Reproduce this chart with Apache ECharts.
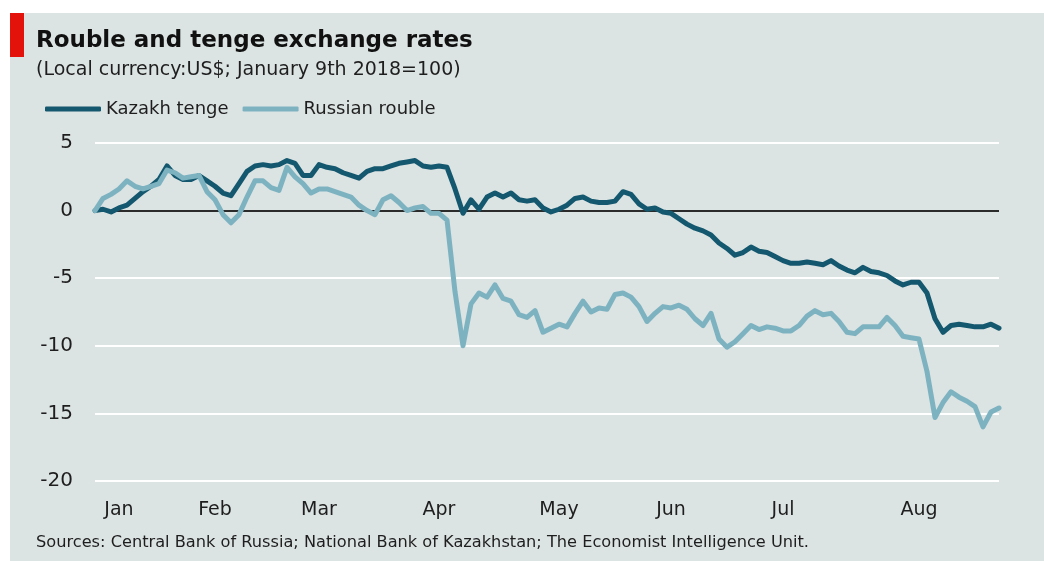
<!DOCTYPE html>
<html>
<head>
<meta charset="utf-8">
<title>Rouble and tenge exchange rates</title>
<script src="https://cdn.jsdelivr.net/npm/echarts@6/dist/echarts.min.js"></script>
<style>
  html, body { margin: 0; padding: 0; background: #ffffff; }
  #chart { width: 1044px; height: 561px; }
</style>
</head>
<body>
<div id="chart"></div>
<script>
// Observation grid: one reading every second day, from the base date onward
const startDate = '2018-01-09';
const stepDays = 2;
const pointCount = 114;

// Index values, % change against US$ (January 9th 2018 = 100)
const kazakhTenge = [
  0.0, 0.1, -0.1, 0.2, 0.4, 0.9, 1.4, 1.8, 2.3, 3.3,
  2.6, 2.3, 2.3, 2.6, 2.2, 1.8, 1.3, 1.1, 2.0, 2.9,
  3.3, 3.4, 3.3, 3.4, 3.7, 3.5, 2.6, 2.6, 3.4, 3.2,
  3.1, 2.8, 2.6, 2.4, 2.9, 3.1, 3.1, 3.3, 3.5, 3.6,
  3.7, 3.3, 3.2, 3.3, 3.2, 1.6, -0.2, 0.8, 0.1, 1.0,
  1.3, 1.0, 1.3, 0.8, 0.7, 0.8, 0.2, -0.1, 0.1, 0.4,
  0.9, 1.0, 0.7, 0.6, 0.6, 0.7, 1.4, 1.2, 0.5, 0.1,
  0.2, -0.1, -0.2, -0.6, -1.0, -1.3, -1.5, -1.8, -2.4, -2.8,
  -3.3, -3.1, -2.7, -3.0, -3.1, -3.4, -3.7, -3.9, -3.9, -3.8,
  -3.9, -4.0, -3.7, -4.1, -4.4, -4.6, -4.2, -4.5, -4.6, -4.8,
  -5.2, -5.5, -5.3, -5.3, -6.1, -8.0, -9.0, -8.5, -8.4, -8.5,
  -8.6, -8.6, -8.4, -8.7
];
const russianRouble = [
  0.0, 0.9, 1.2, 1.6, 2.2, 1.8, 1.6, 1.8, 2.0, 3.0,
  2.8, 2.4, 2.5, 2.6, 1.4, 0.8, -0.3, -0.9, -0.3, 1.0,
  2.2, 2.2, 1.7, 1.5, 3.2, 2.5, 2.0, 1.3, 1.6, 1.6,
  1.4, 1.2, 1.0, 0.4, 0.0, -0.3, 0.8, 1.1, 0.6, 0.0,
  0.2, 0.3, -0.2, -0.2, -0.7, -6.0, -10.0, -6.9, -6.1, -6.4,
  -5.5, -6.5, -6.7, -7.7, -7.9, -7.4, -9.0, -8.7, -8.4, -8.6,
  -7.6, -6.7, -7.5, -7.2, -7.3, -6.2, -6.1, -6.4, -7.1, -8.2,
  -7.6, -7.1, -7.2, -7.0, -7.3, -8.0, -8.5, -7.6, -9.5, -10.1,
  -9.7, -9.1, -8.5, -8.8, -8.6, -8.7, -8.9, -8.9, -8.5, -7.8,
  -7.4, -7.7, -7.6, -8.2, -9.0, -9.1, -8.6, -8.6, -8.6, -7.9,
  -8.5, -9.3, -9.4, -9.5, -11.9, -15.3, -14.2, -13.4, -13.8, -14.1,
  -14.5, -16.0, -14.9, -14.6
];

// Month names and the reading each one sits under
const monthTicks = [
  ['2018-01-15', 'Jan'],
  ['2018-02-08', 'Feb'],
  ['2018-03-06', 'Mar'],
  ['2018-04-05', 'Apr'],
  ['2018-05-05', 'May'],
  ['2018-06-02', 'Jun'],
  ['2018-06-30', 'Jul'],
  ['2018-08-03', 'Aug']
];
const yTicks = { min: -20, max: 5, step: 5 };

const seriesNames = ['Kazakh tenge', 'Russian rouble'];
const titleText = 'Rouble and tenge exchange rates';
const subtitleText = '(Local currency:US$; January 9th 2018=100)';
const sourceText = 'Sources: Central Bank of Russia; National Bank of Kazakhstan; The Economist Intelligence Unit.';

// Build the category list of dates
const dates = [];
{
  const t0 = Date.parse(startDate + 'T00:00:00Z');
  for (let i = 0; i < pointCount; i++) {
    dates.push(new Date(t0 + i * stepDays * 86400000).toISOString().slice(0, 10));
  }
}
const tickMap = new Map(monthTicks);

const FONT = 'DejaVu Sans';
const TEXT = '#1e1e1e';
const PANEL = '#dce3e3';
const TENGE = '#14586f';
const ROUBLE = '#7db3c1';

// Split line colours run from the bottom tick upward; the zero line is dark
const splitColors = [];
for (let v = yTicks.min; v <= yTicks.max; v += yTicks.step) {
  splitColors.push(v === 0 ? '#2b2b2b' : '#ffffff');
}

const chart = echarts.init(document.getElementById('chart'), null, { renderer: 'canvas' });

chart.setOption({
  backgroundColor: '#ffffff',
  animation: false,
  textStyle: { fontFamily: FONT },
  graphic: [
    { type: 'rect', z: -10, shape: { x: 10, y: 13, width: 1034, height: 548 }, style: { fill: PANEL } },
    { type: 'rect', z: -9, shape: { x: 10, y: 13, width: 14, height: 44 }, style: { fill: '#e3120b' } }
  ],
  title: [
    {
      text: titleText, left: 36, top: 30, padding: 0,
      textStyle: { fontFamily: FONT, fontSize: 23, fontWeight: 'bold', color: '#111111' }
    },
    {
      text: subtitleText, left: 36, top: 61, padding: 0,
      textStyle: { fontFamily: FONT, fontSize: 19, fontWeight: 'normal', color: TEXT }
    },
    {
      text: sourceText, left: 36, top: 535, padding: 0,
      textStyle: { fontFamily: FONT, fontSize: 16.2, fontWeight: 'normal', color: TEXT }
    }
  ],
  legend: {
    data: seriesNames,
    left: 45, top: 100, padding: 0,
    icon: 'roundRect',
    itemWidth: 56, itemHeight: 5, itemGap: 14,
    textStyle: { fontFamily: FONT, fontSize: 18, color: TEXT }
  },
  grid: { left: 95, right: 45, top: 143, bottom: 80, containLabel: false },
  xAxis: {
    type: 'category',
    data: dates,
    boundaryGap: false,
    axisLine: { show: false },
    axisTick: { show: false },
    splitLine: { show: false },
    axisLabel: {
      interval: (idx, val) => tickMap.has(val),
      formatter: (val) => tickMap.get(val) || '',
      margin: 20,
      fontFamily: FONT, fontSize: 19, color: TEXT
    }
  },
  yAxis: {
    type: 'value',
    min: yTicks.min, max: yTicks.max, interval: yTicks.step,
    axisLine: { show: false },
    axisTick: { show: false },
    axisLabel: { margin: 22, fontFamily: FONT, fontSize: 20, color: TEXT },
    splitLine: { show: true, lineStyle: { color: splitColors, width: 2 } }
  },
  series: [
    {
      name: seriesNames[0], type: 'line', data: kazakhTenge,
      showSymbol: false, symbol: 'none',
      lineStyle: { color: TENGE, width: 5, cap: 'round', join: 'round' },
      itemStyle: { color: TENGE }
    },
    {
      name: seriesNames[1], type: 'line', data: russianRouble,
      showSymbol: false, symbol: 'none',
      lineStyle: { color: ROUBLE, width: 5, cap: 'round', join: 'round' },
      itemStyle: { color: ROUBLE }
    }
  ]
});
</script>
</body>
</html>
